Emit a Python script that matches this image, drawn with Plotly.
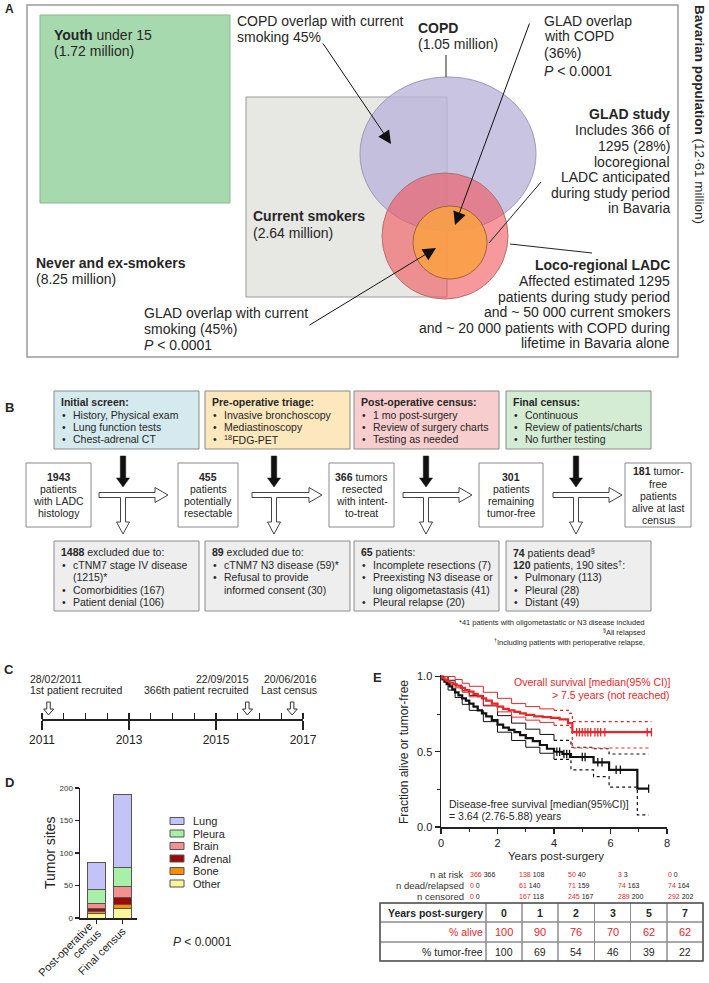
import plotly.graph_objects as go

W, H = 709, 983
FONT = "Arial, 'Liberation Sans', Helvetica, sans-serif"
TXT = "#262626"
RED = "#e8262a"

# ---------------- data ----------------
# Panel C: timeline
timeline_ticks = [2011, 2013, 2015, 2017]
event_dates = ["28/02/2011", "22/09/2015", "20/06/2016"]
event_labels = ["1st patient recruited", "366th patient recruited", "Last census"]
event_years = [2011.15, 2015.72, 2016.75]

# Panel D: tumor sites
bar_categories = ["Post-operative<br>census", "Final census"]
site_names = ["Other", "Bone", "Adrenal", "Brain", "Pleura", "Lung"]
site_colors = ["#f8f59c", "#f78d0a", "#9b0a0a", "#f49090", "#a8efa8", "#c3c3f7"]
sites_postop = [7, 3, 4, 9, 21, 41]
sites_final = [14, 7, 10, 18, 28, 113]
d_yticks = [0, 50, 100, 150, 200]

# Panel E: Kaplan-Meier curves
os_t = [0, 0.05, 0.12, 0.2, 0.3, 0.42, 0.55, 0.7, 0.85, 1.0, 1.15, 1.3, 1.45, 1.6, 1.8, 2.0,
        2.2, 2.4, 2.6, 2.8, 3.0, 3.3, 3.6, 3.9, 4.2, 4.5, 4.65, 7.45]
os_s = [1.0, 0.99, 0.98, 0.97, 0.96, 0.95, 0.94, 0.925, 0.91, 0.90, 0.885, 0.87, 0.855, 0.84, 0.82, 0.80,
        0.785, 0.775, 0.765, 0.755, 0.745, 0.735, 0.73, 0.725, 0.715, 0.69, 0.63, 0.63]
dfs_t = [0, 0.05, 0.12, 0.2, 0.3, 0.4, 0.5, 0.62, 0.75, 0.88, 1.0, 1.15, 1.3, 1.45, 1.6, 1.8, 2.0, 2.2,
         2.4, 2.6, 2.8, 3.0, 3.25, 3.5, 3.75, 4.0, 4.3, 4.6, 5.4, 5.95, 6.95, 7.35]
dfs_s = [1.0, 0.98, 0.965, 0.95, 0.935, 0.915, 0.895, 0.875, 0.855, 0.84, 0.82, 0.8, 0.775, 0.755, 0.735,
         0.71, 0.68, 0.66, 0.645, 0.63, 0.61, 0.59, 0.57, 0.545, 0.52, 0.50, 0.485, 0.465, 0.43, 0.38,
         0.255, 0.255]
os_ci_t = [0, 0.25, 0.5, 0.75, 1.0, 1.5, 2.0, 2.5, 3.0, 3.5, 4.0, 4.55, 4.65, 7.45]
os_upper = [1.0, 1.0, 0.98, 0.955, 0.935, 0.895, 0.855, 0.82, 0.80, 0.785, 0.775, 0.755, 0.70, 0.70]
os_lower = [1.0, 0.95, 0.925, 0.895, 0.865, 0.81, 0.765, 0.73, 0.71, 0.695, 0.675, 0.66, 0.525, 0.525]
dfs_ci_t = [0, 0.25, 0.5, 0.75, 1.0, 1.5, 2.0, 2.5, 3.0, 3.5, 4.0, 4.6, 5.4, 5.95, 6.95, 7.35]
dfs_upper = [1.0, 0.975, 0.94, 0.905, 0.875, 0.805, 0.74, 0.69, 0.65, 0.615, 0.575, 0.53, 0.52, 0.485,
             0.485, 0.485]
dfs_lower = [1.0, 0.91, 0.86, 0.815, 0.775, 0.70, 0.63, 0.575, 0.53, 0.49, 0.45, 0.38, 0.335, 0.265,
             0.08, 0.08]
os_censor_t = [4.8, 4.9, 5.0, 5.1, 5.2, 5.3, 5.45, 5.55, 5.65, 5.8, 7.3, 7.45]
os_censor_s = [0.63, 0.63, 0.63, 0.63, 0.63, 0.63, 0.63, 0.63, 0.63, 0.63, 0.63, 0.63]
dfs_censor_t = [4.1, 4.2, 4.35, 4.45, 4.55, 5.0, 5.1, 5.55, 5.7, 6.2, 6.35, 7.35]
dfs_censor_s = [0.50, 0.50, 0.485, 0.485, 0.485, 0.465, 0.465, 0.43, 0.43, 0.38, 0.38, 0.255]
km_xticks = [0, 2, 4, 6, 8]
km_yticks = [0, 0.5, 1.0]
km_yticklabels = ["0.0", "0.5", "1.0"]

# at-risk rows (red = overall survival, black = disease-free)
risk_rows = ["n at risk", "n dead/relapsed", "n censored"]
risk_os = [[366, 138, 50, 3, 0], [0, 61, 71, 74, 74], [0, 167, 245, 289, 292]]
risk_dfs = [[366, 108, 40, 3, 0], [0, 140, 159, 163, 164], [0, 118, 167, 200, 202]]

# summary table
table_years = ["0", "1", "2", "3", "5", "7"]
pct_alive = [100, 90, 76, 70, 62, 62]
pct_tumor_free = [100, 69, 54, 46, 39, 22]

# ---------------- helpers ----------------
ann = []
shapes = []


def T(x, y, s, size=14, anchor="left", color=TXT, angle=0, yanchor="middle"):
    ann.append(dict(xref="x", yref="y", x=x, y=y, text=s, showarrow=False, xanchor=anchor,
                    yanchor=yanchor, textangle=angle, borderpad=0,
                    font=dict(family=FONT, size=size, color=color)))


def rect(x0, y0, x1, y1, fill="rgba(0,0,0,0)", line="#888", lw=1, ref=("x", "y")):
    shapes.append(dict(type="rect", xref=ref[0], yref=ref[1], x0=x0, y0=y0, x1=x1, y1=y1,
                       fillcolor=fill, line=dict(color=line, width=lw)))


def line(x0, y0, x1, y1, color="#222", lw=1):
    shapes.append(dict(type="line", xref="x", yref="y", x0=x0, y0=y0, x1=x1, y1=y1,
                       line=dict(color=color, width=lw)))


def path(d, fill, color="#333", lw=1, ref=("x", "y")):
    shapes.append(dict(type="path", xref=ref[0], yref=ref[1], path=d, fillcolor=fill,
                       line=dict(color=color, width=lw)))


def arrow(hx, hy, tx, ty):
    ann.append(dict(xref="x", yref="y", axref="x", ayref="y", x=hx, y=hy, ax=tx, ay=ty, text="",
                    showarrow=True, arrowhead=2, arrowsize=2.6, arrowwidth=1, arrowcolor="#111",
                    standoff=0))


fig = go.Figure()
fig.add_trace(go.Scatter(x=[0], y=[0], xaxis="x", yaxis="y", mode="markers",
                         marker=dict(opacity=0), showlegend=False, hoverinfo="skip"))

# ================= Panel A =================
T(4, 9, "<b>A</b>", size=12)
rect(27, 5, 678, 357, line="#9a9a9a", lw=1.5)
rect(40, 15, 230, 203, fill="#a7d9ae", line="#86b98d")
rect(246, 97, 447, 297, fill="#e7e7e3", line="#9a9a9a")
shapes.append(dict(type="circle", xref="x", yref="y", x0=360, y0=77, x1=536, y1=231,
                   fillcolor="rgba(186,181,219,0.8)", line=dict(color="#9c98b8", width=1)))
shapes.append(dict(type="circle", xref="x", yref="y", x0=382, y0=173, x1=508, y1=299,
                   fillcolor="rgba(242,83,90,0.6)", line=dict(color="#b07070", width=1)))
shapes.append(dict(type="circle", xref="x", yref="y", x0=413, y0=206, x1=487, y1=279,
                   fillcolor="rgba(248,160,70,0.9)", line=dict(color="#a0643a", width=1)))

T(53, 35, "<b>Youth</b> under 15")
T(53, 51, "(1.72 million)")
T(236, 21, "COPD overlap with current")
T(236, 37, "smoking 45%")
T(417, 28, "<b>COPD</b>")
T(417, 44, "(1.05 million)")
T(543, 21, "GLAD overlap")
T(543, 36, "with COPD")
T(543, 53, "(36%)")
T(543, 71, "<i>P</i> &lt; 0.0001")
for yy, s in zip([114, 130, 146, 162, 177, 193, 208],
                 ["<b>GLAD study</b>", "Includes 366 of", "1295 (28%)", "locoregional",
                  "LADC anticipated", "during study period", "in Bavaria"]):
    T(671, yy, s, anchor="right")
T(252, 216, "<b>Current smokers</b>")
T(252, 233, "(2.64 million)")
T(35, 263, "<b>Never and ex-smokers</b>")
T(35, 279, "(8.25 million)")
for yy, s in zip([265, 281, 297, 312, 328, 343],
                 ["<b>Loco-regional LADC</b>", "Affected estimated 1295", "patients during study period",
                  "and ~ 50 000 current smokers", "and ~ 20 000 patients with COPD during",
                  "lifetime in Bavaria alone"]):
    T(671, yy, s, anchor="right")
T(143, 313, "GLAD overlap with current")
T(143, 329, "smoking (45%)")
T(143, 345, "<i>P</i> &lt; 0.0001")
T(700, 114, "<b>Bavarian population</b> (12·61 million)", size=13.5, anchor="center", angle=90)

line(446, 55, 446, 77)
line(541, 182, 489, 243)
line(510, 244, 592, 253)
arrow(391, 144, 322, 42)
arrow(455, 225, 530, 22)
arrow(436, 248, 308, 326)

# ================= Panel B =================
T(4, 407, "<b>B</b>", size=13)
FB = 10.5
top_boxes = [
    (54, "#d5eaee", "Initial screen:", ["History, Physical exam", "Lung function tests", "Chest-adrenal CT"]),
    (205, "#fde7bc", "Pre-operative triage:", ["Invasive bronchoscopy", "Mediastinoscopy",
                                               "<sup>18</sup>FDG-PET"]),
    (354, "#f8cdcd", "Post-operative census:", ["1 mo post-surgery", "Review of surgery charts",
                                                "Testing as needed"]),
    (506, "#d4ecd3", "Final census:", ["Continuous", "Review of patients/charts", "No further testing"]),
]
for x0, col, title, items in top_boxes:
    rect(x0, 391, x0 + 145, 449, fill=col, line="#8a8a8a")
    T(x0 + 6, 402, "<b>%s</b>" % title, size=FB)
    for yy, it in zip([414.5, 426.5, 439], items):
        T(x0 + 7, yy, "•", size=FB)
        T(x0 + 18, yy, it, size=FB)

bottom_boxes = [
    (54, [("", "<b>1488</b> excluded due to:"), ("•", "cTNM7 stage IV disease"), (" ", "(1215)*"),
          ("•", "Comorbidities (167)"), ("•", "Patient denial (106)")]),
    (205, [("", "<b>89</b> excluded due to:"), ("•", "cTNM7 N3 disease (59)*"), ("•", "Refusal to provide"),
           (" ", "informed consent (30)")]),
    (354, [("", "<b>65</b> patients:"), ("•", "Incomplete resections (7)"), ("•", "Preexisting N3 disease or"),
           (" ", "lung oligometastasis (41)"), ("•", "Pleural relapse (20)")]),
    (506, [("", "<b>74</b> patients dead<sup>§</sup>"), ("", "<b>120</b> patients, 190 sites<sup>†</sup>:"),
           ("•", "Pulmonary (113)"), ("•", "Pleural (28)"), ("•", "Distant (49)")]),
]
for x0, lines_ in bottom_boxes:
    rect(x0, 541, x0 + 145, 611, fill="#eeeeee", line="#8a8a8a")
    for yy, (b, s) in zip([552, 564.5, 577, 589.5, 602], lines_):
        if b == "":
            T(x0 + 6, yy, s, size=FB)
        else:
            if b == "•":
                T(x0 + 7, yy, "•", size=FB)
            T(x0 + 18, yy, s, size=FB)

mid_boxes = [
    (26, 91, ["<b>1943</b>", "patients", "with LADC", "histology"]),
    (178, 238, ["<b>455</b>", "patients", "potentially", "resectable"]),
    (329, 394, ["<b>366</b> tumors", "resected", "with intent-", "to-treat"]),
    (479, 543, ["<b>301</b>", "patients", "remaining", "tumor-free"]),
    (625, 691, ["<b>181</b> tumor-", "free", "patients", "alive at last", "census"]),
]
for x0, x1, lines_ in mid_boxes:
    rect(x0, 463, x1, 527, fill="white", line="#8a8a8a")
    ys = [477, 489, 501, 513] if len(lines_) == 4 else [471, 483.5, 496, 508, 520]
    for yy, s in zip(ys, lines_):
        T((x0 + x1) / 2, yy, s, size=FB, anchor="center")

for c in [123, 274, 426, 576]:
    path("M %g,456 L %g,456 L %g,478 L %g,478 L %g,487 L %g,478 L %g,478 Z" %
         (c - 2.7, c + 2.7, c + 2.7, c + 6.5, c, c - 6.5, c - 2.7), fill="#111", color="#111", lw=0.5)

cy, sh, hh, hl, vt, vhl, vhw = 495, 2.5, 7.5, 13, 534, 12, 6.5
for xl, xt, xb in [(99, 168, 123), (252, 322, 274), (403, 472, 426), (553, 622, 576)]:
    pts = [(xl, cy - sh), (xt - hl, cy - sh), (xt - hl, cy - hh), (xt, cy), (xt - hl, cy + hh),
           (xt - hl, cy + sh), (xb + sh, cy + sh), (xb + sh, vt - vhl), (xb + vhw, vt - vhl), (xb, vt),
           (xb - vhw, vt - vhl), (xb - sh, vt - vhl), (xb - sh, cy + sh), (xl, cy + sh)]
    d = "M " + " L ".join("%g,%g" % p for p in pts) + " Z"
    path(d, fill="white", color="#444", lw=1)

T(646, 622, "*41 patients with oligometastatic or N3 disease included", size=7.5, anchor="right")
T(646, 632, "<sup>§</sup>All relapsed", size=7.5, anchor="right")
T(646, 642, "<sup>†</sup>Including patients with perioperative relapse,", size=7.5, anchor="right")

# ================= Panel C =================
T(3, 669, "<b>C</b>", size=13)
fig.add_trace(go.Scatter(x=event_years, y=[0, 0, 0], xaxis="x2", yaxis="y2", mode="markers",
                         marker=dict(opacity=0), showlegend=False, hoverinfo="skip"))
text_x = [(29, "left"), (250, "right"), (318, "right")]
for (tx, anc), dt, lb, ey in zip(text_x, event_dates, event_labels, event_years):
    T(tx, 679, dt, size=10.5, anchor=anc)
    T(tx, 690, lb, size=10.5, anchor=anc)
    pts = [(ey - 0.04, 17), (ey + 0.04, 17), (ey + 0.04, 10), (ey + 0.115, 10), (ey, 4),
           (ey - 0.115, 10), (ey - 0.04, 10)]
    d = "M " + " L ".join("%g,%g" % p for p in pts) + " Z"
    path(d, fill="white", color="#333", lw=1, ref=("x2", "y2"))

# ================= Panel D =================
T(4, 782, "<b>D</b>", size=13)
for i, nm in enumerate(site_names):
    fig.add_trace(go.Bar(x=bar_categories, y=[sites_postop[i], sites_final[i]], name=nm,
                         xaxis="x3", yaxis="y3", width=0.7, showlegend=False, hoverinfo="skip",
                         marker=dict(color=site_colors[i], line=dict(color="#555", width=1))))
# rotated category labels (one annotation per text line)
cat_label_pos = [[(96.5, 918.5), (104.5, 925.5)], [(129.5, 923.5)]]
for cat, positions in zip(bar_categories, cat_label_pos):
    for (px, py), part in zip(positions, cat.split("<br>")):
        T(px, py, part, size=11, anchor="right", yanchor="top", angle=-45, color="#222")
legend_y = [821, 833.5, 846, 858.5, 871, 883.5]
for yy, nm, col in zip(legend_y, site_names[::-1], site_colors[::-1]):
    rect(170, yy - 3.5, 184, yy + 3.5, fill=col, line="#555")
    T(192, yy, nm, size=11)
T(50, 853, "Tumor sites", size=14, anchor="center", angle=-90)
T(172, 942, "<i>P</i> &lt; 0.0001", size=12)

# ================= Panel E =================
T(372, 677, "<b>E</b>", size=13)


def km(t, s, color, width, dash="solid"):
    fig.add_trace(go.Scatter(x=t, y=s, xaxis="x4", yaxis="y4", mode="lines", showlegend=False,
                             hoverinfo="skip", line=dict(color=color, width=width, shape="hv", dash=dash)))


for t, s, col in [(dfs_ci_t, dfs_upper, "#111"), (dfs_ci_t, dfs_lower, "#111"),
                  (os_ci_t, os_upper, RED), (os_ci_t, os_lower, RED)]:
    km(t[:11], s[:11], col, 1)
    km(t[10:], s[10:], col, 1.2, dash="dot")
km(dfs_t, dfs_s, "#111", 2.2)
km(os_t, os_s, RED, 2.2)
fig.add_trace(go.Scatter(x=dfs_censor_t, y=dfs_censor_s, xaxis="x4", yaxis="y4", mode="markers",
                         showlegend=False, hoverinfo="skip",
                         marker=dict(symbol="line-ns", size=6, line=dict(color="#111", width=1.3))))
fig.add_trace(go.Scatter(x=os_censor_t, y=os_censor_s, xaxis="x4", yaxis="y4", mode="markers",
                         showlegend=False, hoverinfo="skip",
                         marker=dict(symbol="line-ns", size=6, line=dict(color=RED, width=1.3))))

T(671, 682, "Overall survival [median(95% CI)]", size=10.5, anchor="right", color=RED)
T(671, 695, "&gt; 7.5 years (not reached)", size=10.5, anchor="right", color=RED)
T(448, 804, "Disease-free survival [median(95%CI)]", size=10.5)
T(448, 816, "= 3.64 (2.76-5.88) years", size=10.5)
T(404, 752, "Fraction alive or tumor-free", size=12, anchor="center", angle=-90)
T(556, 856, "Years post-surgery", size=11.5, anchor="center")

risk_x = [469, 518, 567, 617, 667]
for r, (lab, ro, rd) in enumerate(zip(risk_rows, risk_os, risk_dfs)):
    yy = 874 + r * 11
    T(465, yy, lab, size=9.5, anchor="right", color="#333")
    for xx, a, b in zip(risk_x, ro, rd):
        T(xx, yy, '<span style="color:%s">%d</span> %d' % (RED, a, b), size=7, color="#222")

# table
tx = [380, 486, 522, 558, 594.5, 630.5, 667, 703]
ty = [903, 922, 942, 961]
for i in range(3):
    for j in range(7):
        rect(tx[j], ty[i], tx[j + 1], ty[i + 1], line="#8c8c8c", lw=1)
rect(tx[0], ty[0], tx[-1], ty[-1], line="#555", lw=1.5)
T(484, (ty[0] + ty[1]) / 2, "<b>Years post-surgery</b>", size=10.5, anchor="right")
T(484, (ty[1] + ty[2]) / 2, "% alive", size=10.5, anchor="right", color=RED)
T(484, (ty[2] + ty[3]) / 2, "% tumor-free", size=10.5, anchor="right")
for j, (yr, a, f) in enumerate(zip(table_years, pct_alive, pct_tumor_free)):
    xc = (tx[j + 1] + tx[j + 2]) / 2
    T(xc, (ty[0] + ty[1]) / 2, "<b>%s</b>" % yr, size=10.5, anchor="center")
    T(xc, (ty[1] + ty[2]) / 2, str(a), size=11, anchor="center", color=RED)
    T(xc, (ty[2] + ty[3]) / 2, str(f), size=10.5, anchor="center")

# ---------------- layout ----------------
ax_common = dict(showline=True, linecolor="#222", linewidth=1.5, ticks="outside", tickcolor="#222",
                 tickwidth=1.2, showgrid=False, zeroline=False, fixedrange=True, automargin=False)
fig.update_layout(
    width=W, height=H, margin=dict(l=0, r=0, t=0, b=0, pad=0, autoexpand=False),
    paper_bgcolor="white", plot_bgcolor="rgba(0,0,0,0)", hovermode=False, barmode="stack",
    showlegend=False, font=dict(family=FONT, color=TXT),
    xaxis=dict(domain=[0, 1], range=[0, W], visible=False, fixedrange=True, automargin=False),
    yaxis=dict(domain=[0, 1], range=[H, 0], visible=False, fixedrange=True, automargin=False),
    xaxis2=dict(ax_common, domain=[42 / W, 303 / W], range=[2011, 2017], anchor="y2",
                tickvals=timeline_ticks, ticklen=9, tickfont=dict(size=12, color="#222"),
                minor=dict(dtick=0.5, tick0=2011, ticks="inside", ticklen=6, tickwidth=1.2,
                           tickcolor="#222", showgrid=False)),
    yaxis2=dict(domain=[(H - 719) / H, (H - 665) / H], range=[0, 54], visible=False, anchor="x2",
                automargin=False),
    xaxis3=dict(ax_common, domain=[80 / W, 137 / W], anchor="y3", type="category",
                range=[-0.65, 1.55], ticklen=4, showticklabels=False),
    yaxis3=dict(ax_common, domain=[(H - 918) / H, (H - 788) / H], anchor="x3", range=[0, 200],
                tickvals=d_yticks, ticklen=4, tickfont=dict(size=8, color="#333")),
    xaxis4=dict(ax_common, domain=[441 / W, 667 / W], anchor="y4", range=[0, 8], tickvals=km_xticks,
                ticklen=5, tickfont=dict(size=11, color="#222"),
                minor=dict(dtick=1, ticks="outside", ticklen=3, tickcolor="#222", showgrid=False)),
    yaxis4=dict(ax_common, domain=[(H - 827) / H, (H - 675) / H], anchor="x4", range=[0, 1.01],
                tickvals=km_yticks, ticktext=km_yticklabels, ticklen=5,
                tickfont=dict(size=11, color="#222"),
                minor=dict(dtick=0.25, ticks="outside", ticklen=3, tickcolor="#222", showgrid=False)),
    annotations=ann, shapes=shapes,
)
fig.write_html("out.html", config={"displayModeBar": False, "staticPlot": True},
               post_script="document.body.style.margin='0px';document.body.style.overflow='hidden';")
